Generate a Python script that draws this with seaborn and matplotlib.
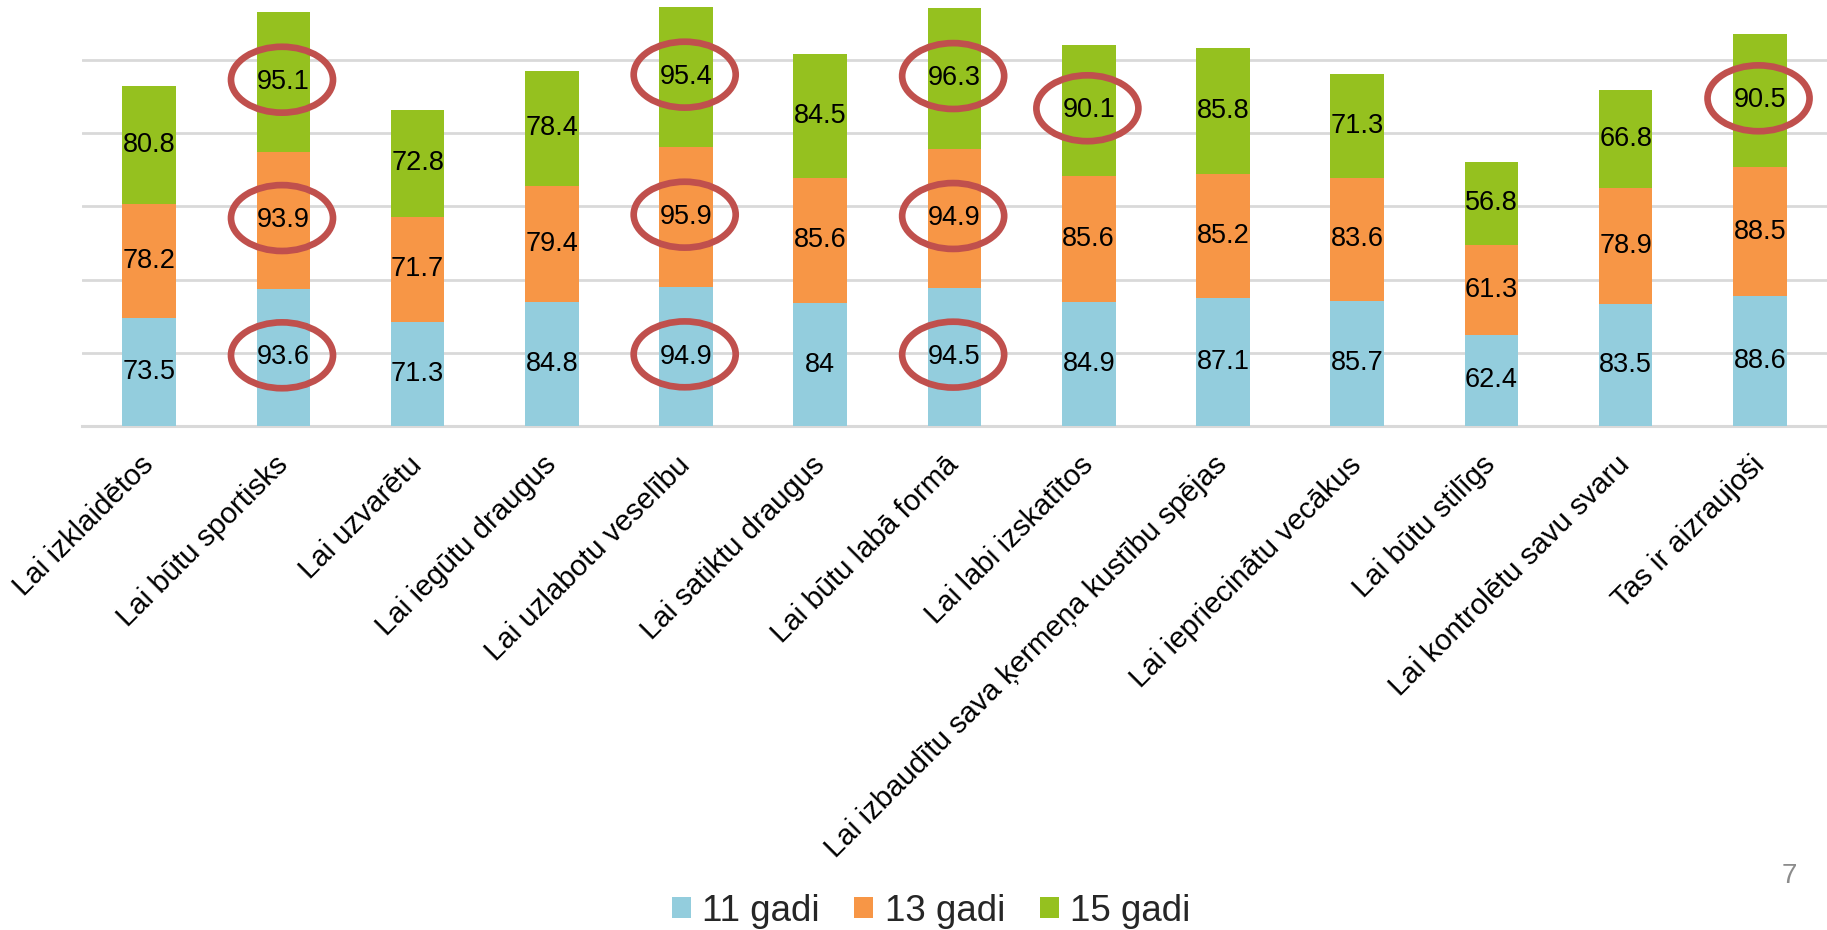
import matplotlib
matplotlib.use("Agg")
import matplotlib.pyplot as plt
from matplotlib.patches import Ellipse, Patch
import seaborn as sns
import numpy as np

categories = ["Lai izklaidētos", "Lai būtu sportisks", "Lai uzvarētu", "Lai iegūtu draugus",
              "Lai uzlabotu veselību", "Lai satiktu draugus", "Lai būtu labā formā",
              "Lai labi izskatītos", "Lai izbaudītu sava ķermeņa kustību spējas",
              "Lai iepriecinātu vecākus", "Lai būtu stilīgs", "Lai kontrolētu savu svaru",
              "Tas ir aizraujoši"]
s11 = [73.5, 93.6, 71.3, 84.8, 94.9, 84, 94.5, 84.9, 87.1, 85.7, 62.4, 83.5, 88.6]
s13 = [78.2, 93.9, 71.7, 79.4, 95.9, 85.6, 94.9, 85.6, 85.2, 83.6, 61.3, 78.9, 88.5]
s15 = [80.8, 95.1, 72.8, 78.4, 95.4, 84.5, 96.3, 90.1, 85.8, 71.3, 56.8, 66.8, 90.5]
series_names = ["11 gadi", "13 gadi", "15 gadi"]
highlight11 = [1, 4, 6]
highlight13 = [1, 4, 6]
highlight15 = [1, 4, 6, 7, 12]
page_number = "7"

colors = ["#93CDDD", "#F79646", "#95C11F"]
red = "#C0504D"

sns.set_theme(style="white")
plt.rcParams["font.family"] = ["Liberation Sans", "DejaVu Sans"]

fig = plt.figure(figsize=(18.27, 9.30), dpi=100)
ax = fig.add_axes([82 / 1827, 1 - 426 / 930, (1827 - 82) / 1827, 426 / 930])

a11 = np.array(s11)
a13 = np.array(s13)
a15 = np.array(s15)
cum1 = a11
cum2 = a11 + a13
cum3 = a11 + a13 + a15

for tot, col in [(cum3, colors[2]), (cum2, colors[1]), (cum1, colors[0])]:
    sns.barplot(x=categories, y=tot, color=col, width=0.4, errorbar=None,
                saturation=1, ax=ax, zorder=3, linewidth=0)

ax.set_xlim(-0.5, len(categories) - 0.5)
ax.set_ylim(0, 291)
ax.set_yticks([50, 100, 150, 200, 250])
ax.yaxis.grid(True, color="#d9d9d9", linewidth=2.0, zorder=0)
ax.set_axisbelow(True)
ax.tick_params(axis="y", left=False, labelleft=False)
for sp in ["left", "right", "top"]:
    ax.spines[sp].set_visible(False)
ax.spines["bottom"].set_color("#d9d9d9")
ax.spines["bottom"].set_linewidth(2.2)
ax.set_ylabel("")
ax.set_xlabel("")

ax.set_xticks(range(len(categories)))
ax.set_xticklabels(categories, rotation=45, ha="right", rotation_mode="anchor",
                   va="center", fontsize=21.2, color="black")
ax.tick_params(axis="x", bottom=False, length=0, pad=25)

def fmt(v):
    return f"{v:g}"

for vals, bottoms, hl in [(a11, np.zeros_like(a11), highlight11),
                          (a13, cum1, highlight13),
                          (a15, cum2, highlight15)]:
    for i, (v, b) in enumerate(zip(vals, bottoms)):
        mid = b + v / 2
        ax.text(i, mid, fmt(v), ha="center", va="center", fontsize=19.5,
                color="black", zorder=5)
        if i in hl:
            e = Ellipse((i - 0.01, mid + 1.5), width=0.76, height=45, fill=False,
                        edgecolor=red, linewidth=4.8, zorder=6, clip_on=False)
            ax.add_patch(e)

handles = [Patch(facecolor=c, edgecolor="none") for c in colors]
fig.legend(handles, series_names, loc="center", bbox_to_anchor=(931 / 1827, 1 - 911 / 930),
           ncol=3, frameon=False, fontsize=26.5, handlelength=0.52, handleheight=0.52,
           handletextpad=0.3, columnspacing=0.95)

fig.text(1789 / 1827, 1 - 876 / 930, page_number, ha="center", va="center",
         fontsize=20, color="#8c8c8c")

fig.savefig("out.png", dpi=100)
